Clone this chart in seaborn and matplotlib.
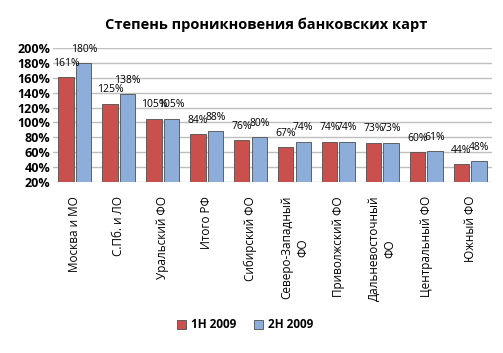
import numpy as np
import pandas as pd
import matplotlib
matplotlib.use("Agg")
import matplotlib.pyplot as plt
import seaborn as sns

# data
regions = ["Москва и МО", "С.Пб. и ЛО", "Уральский ФО", "Итого РФ", "Сибирский ФО",
           "Северо-Западный\nФО", "Приволжский ФО", "Дальневосточный\nФО",
           "Центральный ФО", "Южный ФО"]
h1_2009 = [161, 125, 105, 84, 76, 67, 74, 73, 60, 44]
h2_2009 = [180, 138, 105, 88, 80, 74, 74, 73, 61, 48]
periods = ["1H 2009", "2H 2009"]
yticks = list(range(20, 201, 20))

df = pd.DataFrame({
    "region": regions * 2,
    "period": [periods[0]] * len(regions) + [periods[1]] * len(regions),
    "value": h1_2009 + h2_2009,
})

sns.set_style("white")
plt.rcParams["font.family"] = ["Open Sans", "DejaVu Sans"]
plt.rcParams["text.color"] = "black"
plt.rcParams["xtick.color"] = "black"
plt.rcParams["ytick.color"] = "black"

fig = plt.figure(figsize=(5.03, 3.53), dpi=100)
ax = fig.add_axes([53 / 503, 1 - 182 / 353, 439 / 503, 134 / 353])

sns.barplot(data=df, x="region", y="value", hue="period",
            palette=["#C9504D", "#8DAEDB"], saturation=1, width=0.8, gap=0.12,
            edgecolor="#4f4f4f", linewidth=0.6, ax=ax, legend=True)

ax.set_ylim(20, 200)
ax.set_yticks(yticks)
ax.set_yticklabels([f"{t}%" for t in yticks], fontsize=9, fontweight="bold")
ax.yaxis.grid(True, color="#bfbfbf", linewidth=1)
ax.set_axisbelow(True)
for s in ax.spines.values():
    s.set_visible(False)
ax.tick_params(axis="both", length=0, pad=2)
ax.set_xlabel("")
ax.set_ylabel("")
ax.set_xticks(range(len(regions)))
ax.set_xticklabels(regions, rotation=90, fontsize=8.5, va="top", ha="center",
                   linespacing=1.3)
ax.tick_params(axis="x", pad=10)

for cont in ax.containers:
    ax.bar_label(cont, labels=[f"{v:.0f}%" for v in cont.datavalues],
                 padding=6, fontsize=7.5)

handles, labels = ax.get_legend_handles_labels()
ax.legend_.remove()
fig.legend(handles, labels, loc="center", bbox_to_anchor=(245 / 503, 1 - 325 / 353),
           ncol=2, frameon=False, handlelength=0.8, handleheight=0.8,
           columnspacing=1.5, handletextpad=0.4,
           prop={"weight": "bold", "size": 8.5})

fig.text(0.53, 1 - 25 / 353, "Степень проникновения банковских карт",
         ha="center", va="center", fontsize=10.5, fontweight="bold")

fig.savefig("out.png", dpi=100)
